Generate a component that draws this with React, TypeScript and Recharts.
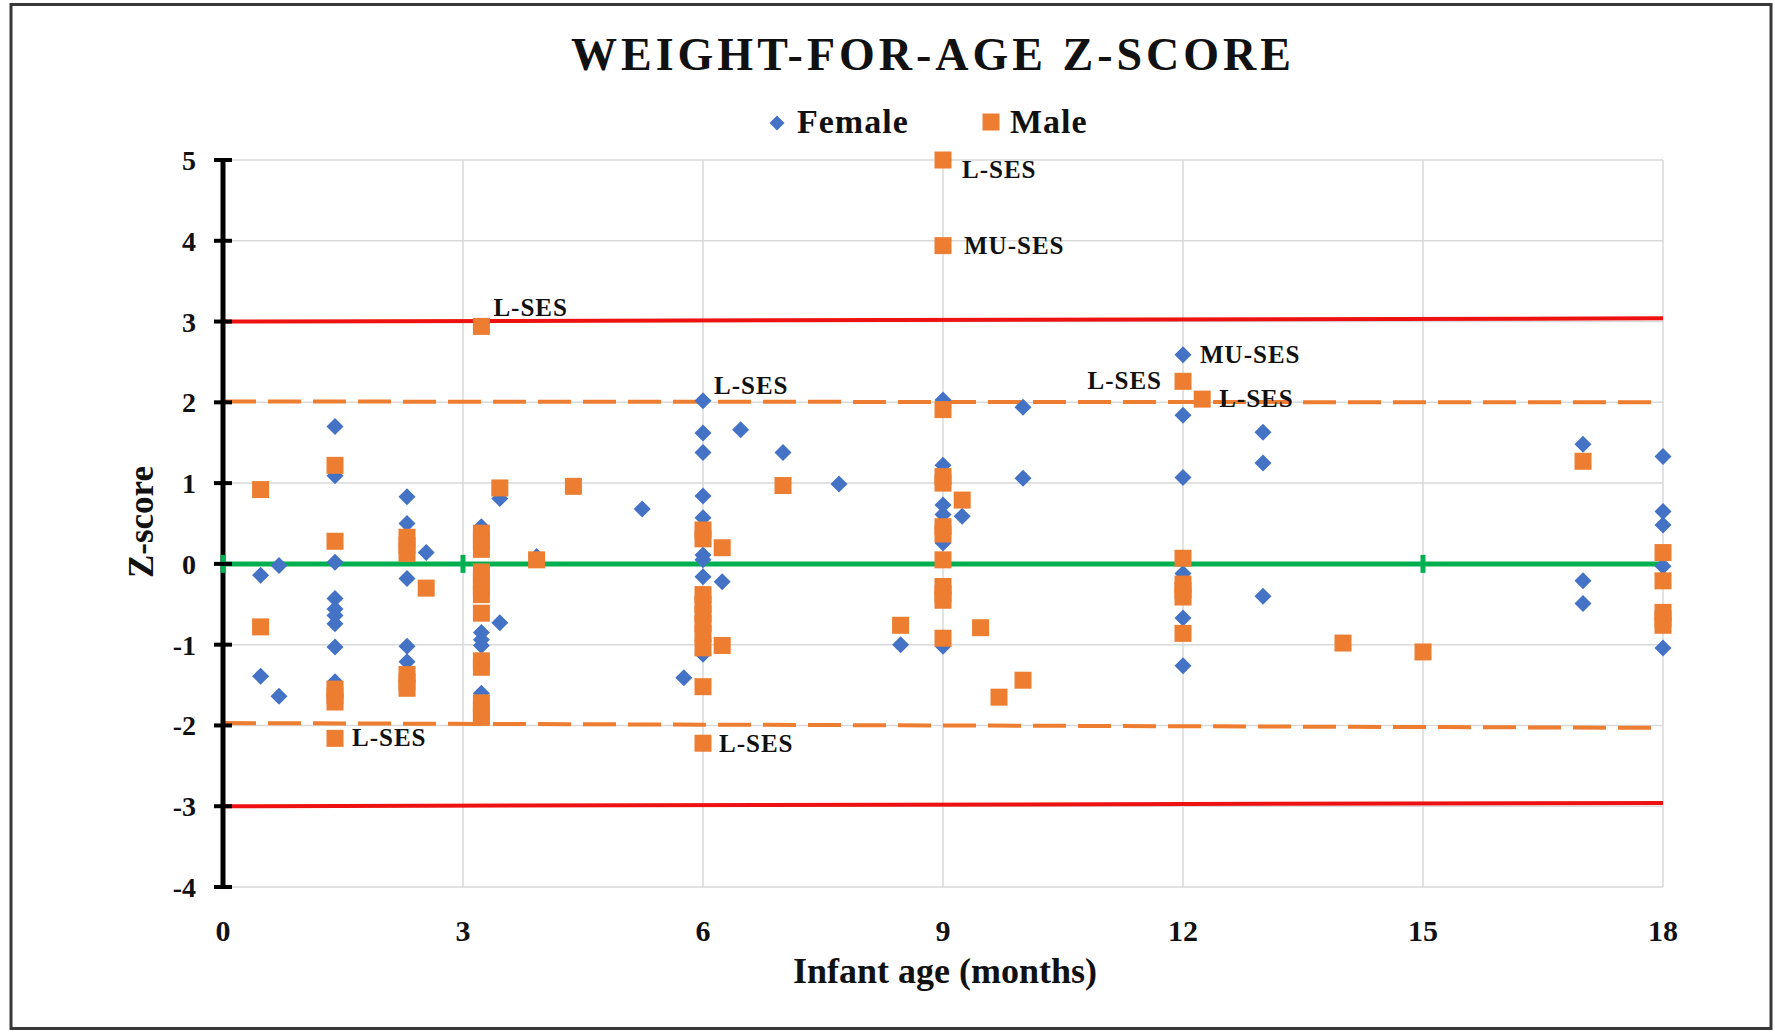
import React from 'react';
import {
  ScatterChart,
  Scatter,
  XAxis,
  YAxis,
  CartesianGrid,
  ReferenceLine,
} from 'recharts';

// ---- data: [age in months, weight-for-age z-score] ----
const FEMALE: [number, number][] = [
  [0.47, -0.14], [0.47, -1.39],
  [0.7, -0.02], [0.7, -1.64],
  [1.4, 1.7], [1.4, 1.09], [1.4, 0.02], [1.4, -0.43], [1.4, -0.56], [1.4, -0.64], [1.4, -0.74], [1.4, -1.03], [1.4, -1.46],
  [2.3, 0.83], [2.3, 0.5], [2.3, -0.18], [2.3, -1.02], [2.3, -1.21],
  [2.54, 0.14],
  [3.23, 0.46], [3.23, -0.85], [3.23, -0.94], [3.23, -1.01], [3.23, -1.6],
  [3.46, 0.81], [3.46, -0.73],
  [3.92, 0.09],
  [5.24, 0.68],
  [5.76, -1.41],
  [6, 2.02], [6, 1.62], [6, 1.38], [6, 0.84], [6, 0.57], [6, 0.11], [6, 0.05], [6, -0.16], [6, -1.12],
  [6.24, -0.22],
  [6.47, 1.66],
  [7, 1.38],
  [7.7, 0.99],
  [8.47, -1.0],
  [9, 2.03], [9, 1.22], [9, 0.73], [9, 0.61], [9, 0.26], [9, -1.02],
  [9.24, 0.59],
  [10, 1.94], [10, 1.06],
  [12, 2.59], [12, 1.84], [12, 1.07], [12, -0.12], [12, -0.67], [12, -1.26],
  [13, 1.63], [13, 1.25], [13, -0.4],
  [17, 1.48], [17, -0.21], [17, -0.49],
  [18, 1.33], [18, 0.65], [18, 0.48], [18, -0.03], [18, -1.04],
];

const MALE: [number, number][] = [
  [0.47, 0.92], [0.47, -0.78],
  [1.4, 1.22], [1.4, 0.28], [1.4, -1.55], [1.4, -1.63], [1.4, -1.71], [1.4, -2.16],
  [2.3, 0.33], [2.3, 0.23], [2.3, 0.13], [2.3, -1.37], [2.3, -1.46], [2.3, -1.54],
  [2.54, -0.3],
  [3.23, 2.94], [3.23, 0.38], [3.23, 0.28], [3.23, 0.18], [3.23, -0.1], [3.23, -0.2], [3.23, -0.3], [3.23, -0.38],
  [3.23, -0.61], [3.23, -1.2], [3.23, -1.28], [3.23, -1.72], [3.23, -1.82], [3.23, -1.9],
  [3.46, 0.94],
  [3.92, 0.05],
  [4.38, 0.96],
  [6, 0.42], [6, 0.31], [6, -0.38], [6, -0.5], [6, -0.62], [6, -0.74], [6, -0.86], [6, -1.04], [6, -1.52], [6, -2.22],
  [6.24, 0.2], [6.24, -1.01],
  [7, 0.97],
  [8.47, -0.76],
  [9, 5], [9, 3.94], [9, 1.91], [9, 1.08], [9, 1.0], [9, 0.46], [9, 0.37], [9, 0.05], [9, -0.28], [9, -0.37], [9, -0.45], [9, -0.92],
  [9.24, 0.79],
  [9.47, -0.79],
  [9.7, -1.65],
  [10, -1.44],
  [12, 2.26], [12, 0.07], [12, -0.25], [12, -0.33], [12, -0.41], [12, -0.86],
  [12.24, 2.04],
  [14, -0.98],
  [15, -1.09],
  [17, 1.27],
  [18, 0.14], [18, -0.21], [18, -0.6], [18, -0.68], [18, -0.76],
];

// socioeconomic-status notes attached to individual infants
const FEMALE_TAGS = [
  { age: 6, z: 2.02, tag: 'L-SES' },
  { age: 12, z: 2.59, tag: 'MU-SES' },
];
const MALE_TAGS = [
  { age: 1.4, z: -2.16, tag: 'L-SES' },
  { age: 3.23, z: 2.94, tag: 'L-SES' },
  { age: 6, z: -2.22, tag: 'L-SES' },
  { age: 9, z: 5, tag: 'L-SES' },
  { age: 9, z: 3.94, tag: 'MU-SES' },
  { age: 12, z: 2.26, tag: 'L-SES' },
  { age: 12.24, z: 2.04, tag: 'L-SES' },
];

// WHO cut-off lines (start / end z at 0 and 18 months)
const SEVERE_UPPER = [3.0, 3.04];
const SEVERE_LOWER = [-3.0, -2.96];
const MODERATE_UPPER = [2.01, 2.0];
const MODERATE_LOWER = [-1.97, -2.03];
const MEDIAN_MARKS = [0, 3, 15, 18];

const X_TICKS = [0, 3, 6, 9, 12, 15, 18];
const Y_TICKS = [-4, -3, -2, -1, 0, 1, 2, 3, 4, 5];

// ---- styling ----
const SERIF = "'Liberation Serif', 'Times New Roman', Times, serif";
const BLUE = '#4472C4';
const ORANGE = '#ED7D31';
const RED = '#EE1111';
const GREEN = '#00B050';

// label placement relative to the marker centre
const TAG_PLACEMENT: Record<string, { dx: number; dy: number; anchor: 'start' | 'end' }> = {
  '6|2.02': { dx: 11, dy: -7, anchor: 'start' },
  '12|2.59': { dx: 17, dy: 8, anchor: 'start' },
  '1.4|-2.16': { dx: 17, dy: 8, anchor: 'start' },
  '3.23|2.94': { dx: 12, dy: -10, anchor: 'start' },
  '6|-2.22': { dx: 16, dy: 9, anchor: 'start' },
  '9|5': { dx: 19, dy: 18, anchor: 'start' },
  '9|3.94': { dx: 21, dy: 8, anchor: 'start' },
  '12|2.26': { dx: -21, dy: 8, anchor: 'end' },
  '12.24|2.04': { dx: 17, dy: 8, anchor: 'start' },
};

type Pt = { age: number; z: number; tag?: string };

const build = (pts: [number, number][], tags: { age: number; z: number; tag: string }[]): Pt[] =>
  pts.map(([age, z]) => ({
    age,
    z,
    tag: tags.find((t) => t.age === age && t.z === z)?.tag,
  }));

const femaleData = build(FEMALE, FEMALE_TAGS);
const maleData = build(MALE, MALE_TAGS);
const medianData = MEDIAN_MARKS.map((age) => ({ age, z: 0 }));

const TagText = ({ cx, cy, p }: { cx: number; cy: number; p: Pt }) => {
  if (!p.tag) return null;
  const place = TAG_PLACEMENT[`${p.age}|${p.z}`] || { dx: 17, dy: 8, anchor: 'start' };
  return (
    <text
      x={cx + place.dx}
      y={cy + place.dy}
      textAnchor={place.anchor}
      fontFamily={SERIF}
      fontWeight="bold"
      fontSize={25}
      letterSpacing={1}
      fill="#111"
    >
      {p.tag}
    </text>
  );
};

const Diamond = (props: any) => {
  const { cx, cy, payload } = props;
  if (cx == null || cy == null) return null;
  const w = 8.5;
  const h = 8.5;
  return (
    <g>
      <path d={`M${cx},${cy - h}L${cx + w},${cy}L${cx},${cy + h}L${cx - w},${cy}Z`} fill={BLUE} />
      <TagText cx={cx} cy={cy} p={payload} />
    </g>
  );
};

const Square = (props: any) => {
  const { cx, cy, payload } = props;
  if (cx == null || cy == null) return null;
  const s = 17;
  return (
    <g>
      <rect x={cx - s / 2} y={cy - s / 2} width={s} height={s} fill={ORANGE} />
      <TagText cx={cx} cy={cy} p={payload} />
    </g>
  );
};

const MedianTick = (props: any) => {
  const { cx, cy } = props;
  if (cx == null || cy == null) return null;
  return <line x1={cx} x2={cx} y1={cy - 9} y2={cy + 9} stroke={GREEN} strokeWidth={5} />;
};

const YTick = (props: any) => {
  const { x, y, payload } = props;
  return (
    <g>
      <line x1={x - 9} x2={x + 9} y1={y} y2={y} stroke="#000" strokeWidth={4} />
      <text
        x={x - 27}
        y={y}
        dy={10}
        textAnchor="end"
        fontFamily={SERIF}
        fontWeight="bold"
        fontSize={28}
        fill="#111"
      >
        {payload.value}
      </text>
    </g>
  );
};

const XTick = (props: any) => {
  const { x, y, payload } = props;
  return (
    <text
      x={x}
      y={y + 54}
      textAnchor="middle"
      fontFamily={SERIF}
      fontWeight="bold"
      fontSize={30}
      fill="#111"
    >
      {payload.value}
    </text>
  );
};

const W = 1775;
const H = 1032;

export default function App() {
  return (
    <div style={{ position: 'absolute', left: 0, top: 0, width: W, height: H, background: '#fff' }}>
      <ScatterChart width={W} height={H} margin={{ top: 160, right: 112, bottom: 0, left: 0 }}>
        <CartesianGrid stroke="#D9D9D9" strokeWidth={1.5} />
        <XAxis
          type="number"
          dataKey="age"
          domain={[0, 18]}
          ticks={X_TICKS}
          interval={0}
          height={145}
          axisLine={false}
          tickLine={false}
          tickSize={0}
          tickMargin={0}
          tick={<XTick />}
        />
        <YAxis
          type="number"
          dataKey="z"
          domain={[-4, 5]}
          ticks={Y_TICKS}
          interval={0}
          width={223}
          axisLine={{ stroke: '#000', strokeWidth: 5 }}
          tickLine={false}
          tickSize={0}
          tickMargin={0}
          tick={<YTick />}
        />
        <ReferenceLine
          segment={[{ x: 0, y: SEVERE_UPPER[0] }, { x: 18, y: SEVERE_UPPER[1] }]}
          stroke={RED}
          strokeWidth={4}
          ifOverflow="visible"
        />
        <ReferenceLine
          segment={[{ x: 0, y: SEVERE_LOWER[0] }, { x: 18, y: SEVERE_LOWER[1] }]}
          stroke={RED}
          strokeWidth={4}
          ifOverflow="visible"
        />
        <ReferenceLine
          segment={[{ x: 0, y: MODERATE_UPPER[0] }, { x: 18, y: MODERATE_UPPER[1] }]}
          stroke={ORANGE}
          strokeWidth={4}
          strokeDasharray="33 12"
          ifOverflow="visible"
        />
        <ReferenceLine
          segment={[{ x: 0, y: MODERATE_LOWER[0] }, { x: 18, y: MODERATE_LOWER[1] }]}
          stroke={ORANGE}
          strokeWidth={4}
          strokeDasharray="33 12"
          ifOverflow="visible"
        />
        <Scatter
          name="Median"
          data={medianData}
          line={{ stroke: GREEN, strokeWidth: 5 }}
          shape={<MedianTick />}
          legendType="none"
          isAnimationActive={false}
        />
        <Scatter name="Female" data={femaleData} shape={<Diamond />} isAnimationActive={false} />
        <Scatter name="Male" data={maleData} shape={<Square />} isAnimationActive={false} />
      </ScatterChart>

      <svg
        width={W}
        height={H}
        style={{ position: 'absolute', left: 0, top: 0, pointerEvents: 'none' }}
      >
        <rect x={11} y={4.5} width={1760} height={1024} fill="none" stroke="#383838" strokeWidth={3} />
        <text
          x={933}
          y={70}
          textAnchor="middle"
          fontFamily={SERIF}
          fontWeight="bold"
          fontSize={46}
          letterSpacing={4}
          fill="#111"
        >
          WEIGHT-FOR-AGE Z-SCORE
        </text>
        <path d="M777,115.5L784.5,123L777,130.5L769.5,123Z" fill={BLUE} />
        <text x={797} y={133} fontFamily={SERIF} fontWeight="bold" fontSize={34} letterSpacing={1} fill="#111">
          Female
        </text>
        <rect x={982.5} y={113.5} width={17} height={17} fill={ORANGE} />
        <text x={1010} y={133} fontFamily={SERIF} fontWeight="bold" fontSize={34} letterSpacing={1} fill="#111">
          Male
        </text>
        <text
          x={945}
          y={983}
          textAnchor="middle"
          fontFamily={SERIF}
          fontWeight="bold"
          fontSize={36}
          fill="#111"
        >
          Infant age (months)
        </text>
        <text
          x={153}
          y={522}
          transform="rotate(-90 153 522)"
          textAnchor="middle"
          fontFamily={SERIF}
          fontWeight="bold"
          fontSize={35}
          fill="#111"
        >
          Z-score
        </text>
      </svg>
    </div>
  );
}
